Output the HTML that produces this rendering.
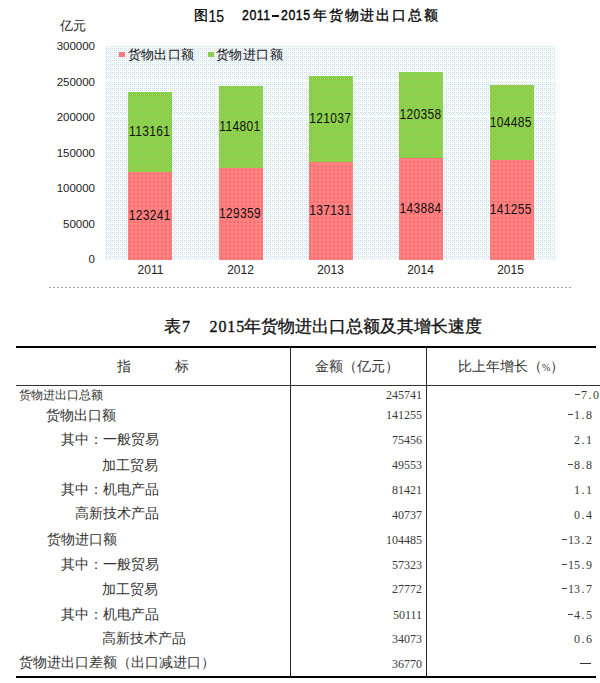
<!DOCTYPE html>
<html><head><meta charset="utf-8">
<style>
html,body{margin:0;padding:0;background:#fff;}
body{width:600px;height:683px;position:relative;overflow:hidden;font-family:"Liberation Sans",sans-serif;color:#000;}
.a{position:absolute;white-space:nowrap;line-height:1;}
.ttl{font-weight:bold;font-size:14px;letter-spacing:1px;}
.yl{font-size:11.5px;color:#222;text-align:right;width:60px;left:35px;}
.xl{font-size:12px;color:#222;text-align:center;width:60px;}
.bl{font-size:12px;color:#111;text-align:center;width:60px;letter-spacing:0.35px;text-indent:-1.6px;transform:scaleY(1.17);transform-origin:50% 50%;}
.bar{position:absolute;}
.g{background:#8ccf4e;}
.r{background:#ff7b7b;}
.ln{position:absolute;background:#000;}
.t12{font-size:12px;}
.t14{font-size:14px;color:#333;}
.num{font-family:"Liberation Serif",serif;font-size:12px;color:#3a3a3a;text-align:right;}
.m{display:inline-block;width:6px;text-align:center;}
.h{display:inline-block;width:6px;height:8px;position:relative;}
.h::after{content:"";position:absolute;left:0;width:5px;top:3px;height:1px;background:#444;}
.ttl2{font-family:"Liberation Serif",serif;font-size:16px;-webkit-text-stroke:0.35px #111;color:#111;}
</style></head><body>

<!-- chart title -->
<div class="a" style="left:194px;top:8px;font-size:14px;color:#000;-webkit-text-stroke:0.3px #000;">图</div>
<div class="a" style="left:208.5px;top:8px;font-size:14px;color:#000;letter-spacing:0px;transform:scaleY(1.14);transform-origin:0 0;-webkit-text-stroke:0.15px #000;">15</div>
<div class="a" style="left:241.5px;top:7px;font-size:14px;color:#000;letter-spacing:0.6px;transform:scale(0.88,1.1);transform-origin:0 0;-webkit-text-stroke:0.35px #000;">2011</div>
<div class="a" style="left:272px;top:15px;width:7px;height:1.6px;background:#111;"></div>
<div class="a" style="left:280.5px;top:7px;font-size:14px;color:#000;letter-spacing:0.6px;transform:scale(0.88,1.1);transform-origin:0 0;-webkit-text-stroke:0.35px #000;">2015</div>
<div class="a" style="left:313px;top:8px;font-size:14px;color:#000;letter-spacing:1.8px;-webkit-text-stroke:0.3px #000;">年货物进出口总额</div>
<div class="a" style="left:60px;top:18.5px;font-size:13px;color:#222;">亿元</div>

<!-- plot area -->
<svg class="a" style="left:0;top:0;" width="600" height="300" viewBox="0 0 600 300" shape-rendering="crispEdges">
<defs>
<pattern id="pt" width="4" height="4" patternUnits="userSpaceOnUse">
<rect width="4" height="4" fill="#ffffff"/>
<rect x="2" y="0" width="1" height="1" fill="#d4d4d4"/>
<rect x="2" y="2" width="1" height="1" fill="#d4d4d4"/>
<rect x="0" y="0" width="1" height="1" fill="#d4d4ff"/>
<rect x="1" y="1" width="1" height="1" fill="#ccfaff"/>
<rect x="3" y="3" width="1" height="1" fill="#ccfaff"/>
<rect x="0" y="2" width="1" height="1" fill="#dcf4ff"/>
<rect x="3" y="1" width="1" height="1" fill="#eef6ff"/>
</pattern>
<pattern id="pg" width="4" height="4" patternUnits="userSpaceOnUse">
<rect width="4" height="4" fill="#94c84a"/>
<rect x="0" y="0" width="1" height="1" fill="#6ede52"/>
<rect x="2" y="2" width="1" height="1" fill="#6ede52"/>
<rect x="2" y="0" width="1" height="1" fill="#8cee5a"/>
<rect x="0" y="2" width="1" height="1" fill="#8cee5a"/>
</pattern>
<pattern id="pr" width="4" height="4" patternUnits="userSpaceOnUse">
<rect width="4" height="4" fill="#ff8282"/>
<rect x="1" y="1" width="2" height="2" fill="#ff6c6e"/>
</pattern>
</defs>
<rect x="105" y="46" width="451" height="214" fill="url(#pt)"/>
<rect x="105" y="80" width="451" height="1" fill="#fff"/>
<rect x="105" y="116" width="451" height="1" fill="#fff"/>
<rect x="105" y="151" width="451" height="1" fill="#fff"/>
<rect x="105" y="187" width="451" height="1" fill="#fff"/>
<rect x="105" y="223" width="451" height="1" fill="#fff"/>
<rect x="128" y="92" width="44" height="80" fill="url(#pg)"/>
<rect x="128" y="172" width="44" height="88" fill="url(#pr)"/>
<rect x="219" y="86" width="44" height="82" fill="url(#pg)"/>
<rect x="219" y="168" width="44" height="92" fill="url(#pr)"/>
<rect x="309" y="76" width="44" height="86" fill="url(#pg)"/>
<rect x="309" y="162" width="44" height="98" fill="url(#pr)"/>
<rect x="399" y="72" width="44" height="86" fill="url(#pg)"/>
<rect x="399" y="158" width="44" height="102" fill="url(#pr)"/>
<rect x="490" y="85" width="44" height="75" fill="url(#pg)"/>
<rect x="490" y="160" width="44" height="100" fill="url(#pr)"/>
</svg>

<!-- y labels -->
<div class="a yl" style="top:41px;">300000</div>
<div class="a yl" style="top:76.5px;">250000</div>
<div class="a yl" style="top:112px;">200000</div>
<div class="a yl" style="top:147.5px;">150000</div>
<div class="a yl" style="top:183px;">100000</div>
<div class="a yl" style="top:218.5px;">50000</div>
<div class="a yl" style="top:254px;">0</div>

<!-- legend -->
<div class="bar r" style="left:119px;top:52px;width:6px;height:5px;"></div>
<div class="a" style="left:127.5px;top:47.5px;font-size:13px;letter-spacing:0.4px;color:#111;">货物出口额</div>
<div class="bar g" style="left:207.5px;top:52px;width:6px;height:5px;"></div>
<div class="a" style="left:216px;top:47.5px;font-size:13px;letter-spacing:0.4px;color:#111;">货物进口额</div>

<!-- bar labels -->
<div class="a bl" style="left:120.50px;top:125.3px;">113161</div>
<div class="a bl" style="left:120.50px;top:209.4px;">123241</div>
<div class="a bl" style="left:210.75px;top:119.8px;">114801</div>
<div class="a bl" style="left:210.75px;top:207.2px;">129359</div>
<div class="a bl" style="left:301.00px;top:112.2px;">121037</div>
<div class="a bl" style="left:301.00px;top:204.4px;">137131</div>
<div class="a bl" style="left:391.25px;top:108.2px;">120358</div>
<div class="a bl" style="left:391.25px;top:202.0px;">143884</div>
<div class="a bl" style="left:481.50px;top:115.6px;">104485</div>
<div class="a bl" style="left:481.50px;top:203.0px;">141255</div>

<!-- x labels -->
<div class="a xl" style="left:120.5px;top:264px;">2011</div>
<div class="a xl" style="left:210.5px;top:264px;">2012</div>
<div class="a xl" style="left:300.5px;top:264px;">2013</div>
<div class="a xl" style="left:390.5px;top:264px;">2014</div>
<div class="a xl" style="left:480.5px;top:264px;">2015</div>

<!-- dotted separator -->
<div class="a" style="left:49px;top:287px;width:524px;height:1px;background:repeating-linear-gradient(90deg,#a8a8a8 0 2px,transparent 2px 4px);"></div>

<!-- table title -->
<div class="a" style="left:164px;top:318px;font-size:17px;color:#111;-webkit-text-stroke:0.3px #111;">表</div>
<div class="a ttl2" style="left:182px;top:319px;">7</div>
<div class="a ttl2" style="left:209.5px;top:319px;letter-spacing:0.9px;">2015</div>
<div class="a" style="left:244px;top:318px;font-size:17px;color:#111;-webkit-text-stroke:0.3px #111;">年货物进出口总额及其增长速度</div>

<!-- table lines -->
<div class="ln" style="left:16px;top:346px;width:580px;height:2px;"></div>
<div class="ln" style="left:16px;top:385px;width:584px;height:1px;background:#333;"></div>
<div class="ln" style="left:16px;top:676px;width:580px;height:2px;"></div>
<div class="ln" style="left:290px;top:347px;width:1px;height:329px;background:#222;"></div>
<div class="ln" style="left:426px;top:347px;width:1px;height:329px;background:#222;"></div>

<!-- header -->
<div class="a t14" style="left:117px;top:359px;">指</div>
<div class="a t14" style="left:175px;top:359px;">标</div>
<div class="a t14" style="left:315px;top:359px;">金额（亿元）</div>
<div class="a t14" style="left:458px;top:359px;">比上年增长（<span style="font-size:10px;font-family:'Liberation Serif',serif;">%</span>）</div>

<!-- rows -->
<div class="a t12" style="left:19px;top:389px;color:#333;">货物进出口总额</div>
<div class="a t14" style="left:46px;top:407.5px;">货物出口额</div>
<div class="a t14" style="left:61px;top:432px;">其中：一般贸易</div>
<div class="a t14" style="left:102px;top:458px;">加工贸易</div>
<div class="a t14" style="left:61px;top:481.5px;">其中：机电产品</div>
<div class="a t14" style="left:75px;top:506px;">高新技术产品</div>
<div class="a t14" style="left:47px;top:532px;">货物进口额</div>
<div class="a t14" style="left:61px;top:557px;">其中：一般贸易</div>
<div class="a t14" style="left:102px;top:581.5px;">加工贸易</div>
<div class="a t14" style="left:61px;top:607px;">其中：机电产品</div>
<div class="a t14" style="left:102.3px;top:631px;">高新技术产品</div>
<div class="a t14" style="left:19px;top:655px;">货物进出口差额（出口减进口）</div>

<!-- amounts -->
<div class="a num" style="right:178px;top:389.0px;">245741</div>
<div class="a num" style="right:178px;top:409.0px;">141255</div>
<div class="a num" style="right:178px;top:434.4px;">75456</div>
<div class="a num" style="right:178px;top:459.3px;">49553</div>
<div class="a num" style="right:178px;top:483.8px;">81421</div>
<div class="a num" style="right:178px;top:508.7px;">40737</div>
<div class="a num" style="right:178px;top:534.0px;">104485</div>
<div class="a num" style="right:178px;top:558.6px;">57323</div>
<div class="a num" style="right:178px;top:583.4px;">27772</div>
<div class="a num" style="right:178px;top:608.7px;">50111</div>
<div class="a num" style="right:178px;top:633.3px;">34073</div>
<div class="a num" style="right:178px;top:658.2px;">36770</div>

<!-- growth -->
<div class="a num" style="right:1px;top:389.0px;"><span class="h"></span>7<span class="m">.</span>0</div>
<div class="a num" style="right:8px;top:409.0px;"><span class="h"></span>1<span class="m">.</span>8</div>
<div class="a num" style="right:8px;top:434.4px;">2<span class="m">.</span>1</div>
<div class="a num" style="right:8px;top:459.3px;"><span class="h"></span>8<span class="m">.</span>8</div>
<div class="a num" style="right:8px;top:483.8px;">1<span class="m">.</span>1</div>
<div class="a num" style="right:8px;top:508.7px;">0<span class="m">.</span>4</div>
<div class="a num" style="right:8px;top:534.0px;"><span class="h"></span>13<span class="m">.</span>2</div>
<div class="a num" style="right:8px;top:558.6px;"><span class="h"></span>15<span class="m">.</span>9</div>
<div class="a num" style="right:8px;top:583.4px;"><span class="h"></span>13<span class="m">.</span>7</div>
<div class="a num" style="right:8px;top:608.7px;"><span class="h"></span>4<span class="m">.</span>5</div>
<div class="a num" style="right:8px;top:633.3px;">0<span class="m">.</span>6</div>
<div class="ln" style="left:580px;top:663px;width:11px;height:1px;background:#333;"></div>

</body></html>
